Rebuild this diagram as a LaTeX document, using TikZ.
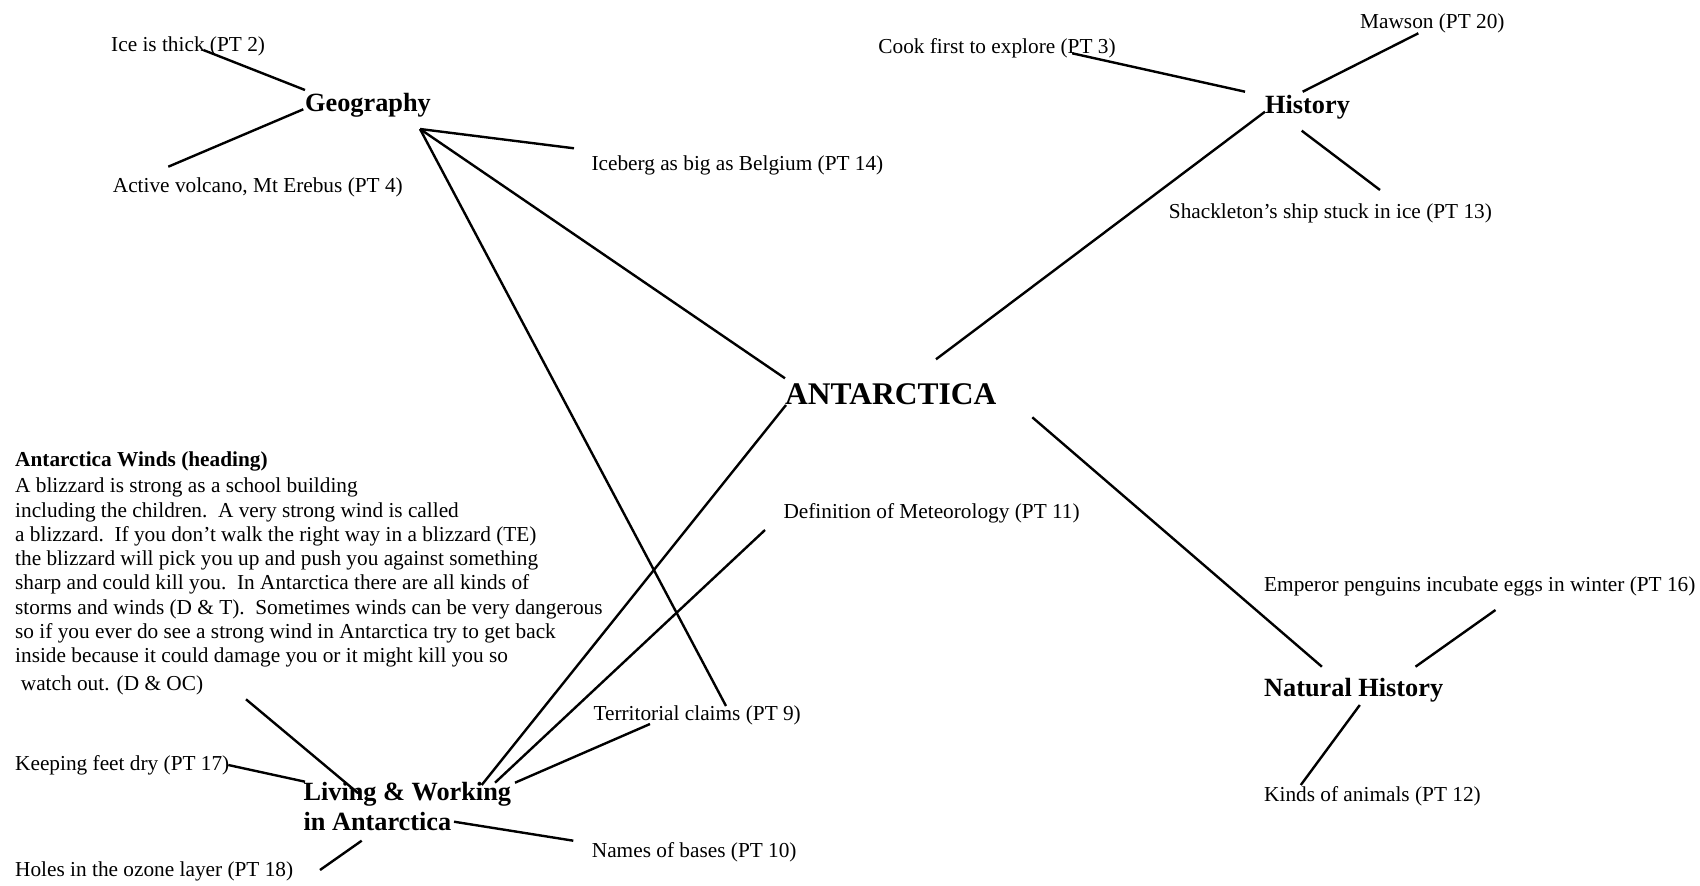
\documentclass[tikz,border=0pt]{standalone}
\usepackage{fontspec}
\setmainfont{Liberation Serif}
\begin{document}
\begin{tikzpicture}[x=1pt,y=-1pt,
  txt/.style={anchor=base west, inner sep=0pt, font=\fontsize{21.3}{24.3}\selectfont},
  boldtxt/.style={txt, font=\fontsize{21.3}{24.3}\selectfont\bfseries},
  topic/.style={anchor=base west, inner sep=0pt, font=\fontsize{26.3}{30}\selectfont\bfseries},
  title/.style={anchor=base west, inner sep=0pt, font=\fontsize{31.5}{36}\selectfont\bfseries},
  link/.style={line width=2.4pt, black}]

% page
\fill[white] (0,0) rectangle (1700,886);
\useasboundingbox (0,0) rectangle (1700,886);

% ---- central topic ----
\node[title] (ant) at (785,404) {ANTARCTICA};

% ---- Geography ----
\node[topic] (geo) at (305,111.7) {Geography};
\node[txt] (ice) at (111,51.7) {Ice is thick (PT 2)};
\node[txt] (volc) at (112.7,192.7) {Active volcano, Mt Erebus (PT 4)};
\node[txt] (berg) at (591.3,170) {Iceberg as big as Belgium (PT 14)};

% ---- History ----
\node[topic] (hist) at (1265,113.3) {History};
\node[txt] (cook) at (878.2,53.3) {Cook first to explore (PT 3)};
\node[txt] (mawson) at (1360,28.3) {Mawson (PT 20)};
\node[txt] (shack) at (1168.7,218.3) {Shackleton’s ship stuck in ice (PT 13)};

% ---- Natural History ----
\node[topic] (nat) at (1264,696.7) {Natural History};
\node[txt] (peng) at (1264,591.7) {Emperor penguins incubate eggs in winter (PT 16)};
\node[txt] (animals) at (1264,801.7) {Kinds of animals (PT 12)};

% ---- Living & Working ----
\node[topic] (living) at (303.3,800)
  {\vtop{\baselineskip=30pt\hbox{Living \& Working}\hbox{in Antarctica}}};
\node[txt] (meteo) at (783.3,518.3) {Definition of Meteorology (PT 11)};
\node[txt] (terr) at (593.3,720) {Territorial claims (PT 9)};
\node[txt] (bases) at (591.7,857.3) {Names of bases (PT 10)};
\node[txt] (feet) at (15,770) {Keeping feet dry (PT 17)};
\node[txt] (holes) at (15,876.7) {Holes in the ozone layer (PT 18)};

% ---- Antarctica Winds paragraph ----
\node[boldtxt] (windshead) at (15,466.7) {Antarctica Winds (heading)};
\node[txt] (winds) at (15,492.7) {\vtop{\baselineskip=24.3pt
  \hbox{A blizzard is strong as a school building}
  \hbox{including the children.\ \ A very strong wind is called}
  \hbox{a blizzard.\ \ If you don’t walk the right way in a blizzard (TE)}
  \hbox{the blizzard will pick you up and push you against something}
  \hbox{sharp and could kill you.\ \ In Antarctica there are all kinds of}
  \hbox{storms and winds (D \& T).\ \ Sometimes winds can be very dangerous}
  \hbox{so if you ever do see a strong wind in Antarctica try to get back}
  \hbox{inside because it could damage you or it might kill you so}}};
\node[txt] (watch) at (20.7,690) {watch out. (D \& OC)};

% ---- connector end points ----
\coordinate (ice-e)   at (203.3,50);    \coordinate (geo-nw)  at (305,90);
\coordinate (geo-w)   at (303.3,109.3); \coordinate (volc-e)  at (168.3,166.7);
\coordinate (geo-hub) at (420,129);
\coordinate (berg-e)  at (574,148.3);
\coordinate (terr-n)  at (726,706);
\coordinate (ant-nw)  at (785,378.3);
\coordinate (ant-sw)  at (786,405);
\coordinate (ant-ne)  at (936,359.3);
\coordinate (ant-se)  at (1032.3,417.3);
\coordinate (hist-sw) at (1265,111.7);
\coordinate (hist-nw) at (1245,91.7);
\coordinate (hist-ne) at (1302.7,91.7);
\coordinate (hist-s)  at (1301.7,130.7);
\coordinate (cook-e)  at (1072.2,53.3);
\coordinate (maw-e)   at (1418.3,33.3);
\coordinate (shack-e) at (1380,190);
\coordinate (nat-nw)  at (1321.9,666.7);
\coordinate (nat-ne)  at (1415.5,666.7);
\coordinate (nat-s)   at (1359.8,705);
\coordinate (peng-e)  at (1495.5,610);
\coordinate (anim-e)  at (1300.8,785);
\coordinate (meteo-e) at (765,530);
\coordinate (liv-a)   at (481.7,785);
\coordinate (liv-b)   at (495,782.7);
\coordinate (liv-c)   at (515,782.7);
\coordinate (terr-w)  at (650,724);
\coordinate (watch-e) at (246,699.3);
\coordinate (liv-n)   at (358.3,793.3);
\coordinate (feet-e)  at (228.3,765);
\coordinate (liv-w)   at (305,781.7);
\coordinate (liv-e)   at (454,821.7);
\coordinate (bases-e) at (573.3,840.7);
\coordinate (liv-s)   at (361.7,840.7);
\coordinate (holes-e) at (320,870);

% ---- connectors ----
\draw[link] (ice-e) -- (geo-nw);
\draw[link] (geo-w) -- (volc-e);
\draw[link] (geo-hub) -- (berg-e);
\draw[link] (geo-hub) -- (terr-n);
\draw[link] (geo-hub) -- (ant-nw);
\draw[link] (ant-sw) -- (liv-a);
\draw[link] (ant-ne) -- (hist-sw);
\draw[link] (ant-se) -- (nat-nw);
\draw[link] (cook-e) -- (hist-nw);
\draw[link] (maw-e) -- (hist-ne);
\draw[link] (hist-s) -- (shack-e);
\draw[link] (peng-e) -- (nat-ne);
\draw[link] (nat-s) -- (anim-e);
\draw[link] (meteo-e) -- (liv-b);
\draw[link] (terr-w) -- (liv-c);
\draw[link] (watch-e) -- (liv-n);
\draw[link] (feet-e) -- (liv-w);
\draw[link] (liv-e) -- (bases-e);
\draw[link] (liv-s) -- (holes-e);
\end{tikzpicture}
\end{document}
